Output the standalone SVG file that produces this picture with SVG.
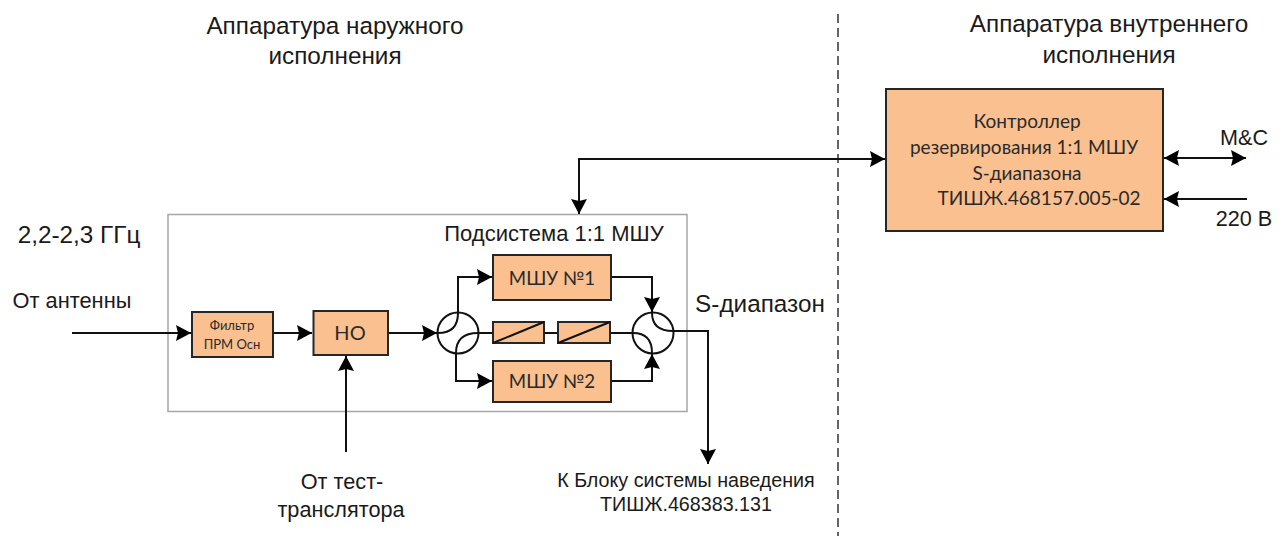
<svg xmlns="http://www.w3.org/2000/svg" width="1285" height="536" viewBox="0 0 1285 536">
<style>
.b{fill:#fac090;stroke:#262626;stroke-width:2}
.c{fill:none;stroke:#111;stroke-width:2}
.a{font-family:"Liberation Sans",Arial,sans-serif;fill:#1a1a1a;text-anchor:middle}
.o{font-family:"Lato","Open Sans",sans-serif;fill:#2a2a2a;text-anchor:middle}
</style>
<defs>
<marker id="e" markerUnits="userSpaceOnUse" markerWidth="16" markerHeight="16" refX="15" refY="8" orient="auto-start-reverse"><path d="M0 0L15 8L0 16L2 8Z" fill="#000"/></marker>
</defs>
<rect width="1285" height="536" fill="#fff"/>
<g id="outdoor-frame"><rect x="168" y="214.500" width="519" height="197" fill="none" stroke="#a6a6a6" stroke-width="1.500"/></g>
<line id="divider" x1="838" y1="14" x2="838" y2="536" stroke="#333" stroke-width="1.500" stroke-dasharray="9 5"/>
<g id="connectors">
<path class="c" d="M72 333H191" marker-end="url(#e)"/>
<path class="c" d="M273 333H312" marker-end="url(#e)"/>
<path class="c" d="M346 452V356" marker-end="url(#e)"/>
<path class="c" d="M388 333H437" marker-end="url(#e)"/>
<path class="c" d="M458 313V277H492" marker-end="url(#e)"/>
<path class="c" d="M456 353V381H492" marker-end="url(#e)"/>
<path class="c" d="M611 277H652V312" marker-end="url(#e)"/>
<path class="c" d="M611 381H652V354" marker-end="url(#e)"/>
<path class="c" d="M478 333H493M544 333H558M610 333H633"/>
<path class="c" d="M673 331H708V464" marker-end="url(#e)"/>
<path class="c" d="M579 214V159H885" marker-start="url(#e)" marker-end="url(#e)"/>
<path class="c" d="M1164 158H1246" marker-start="url(#e)" marker-end="url(#e)"/>
<path class="c" d="M1247 199H1164" marker-end="url(#e)"/>
</g>
<g id="splitter-left"><circle class="c" cx="458" cy="333" r="20.500"/><path class="c" d="M438 333Q458 333 458 313M478 333Q456 333 456 353"/></g>
<g id="splitter-right"><circle class="c" cx="653" cy="333" r="20.500"/><path class="c" d="M652 313Q652 331 673 331M633 333Q652 333 652 353"/></g>
<g id="filter"><rect class="b" x="192" y="312" width="81" height="45"/><text class="o" font-size="13" x="232" y="330">Фильтр</text><text class="o" font-size="13" x="232" y="349">ПРМ Осн</text></g>
<g id="ho"><rect class="b" x="313.500" y="311" width="74.500" height="44"/><text class="o" font-size="20" x="350" y="340">НО</text></g>
<g id="lna1"><rect class="b" x="493" y="255" width="118" height="45"/><text class="o" font-size="18.700" x="552" y="285">МШУ №1</text></g>
<g id="lna2"><rect class="b" x="493" y="361" width="118" height="41"/><text class="o" font-size="18.700" x="552" y="388">МШУ №2</text></g>
<g id="switch1"><rect class="b" x="493" y="322" width="51" height="21"/><path class="c" d="M493 343L544 322"/></g>
<g id="switch2"><rect class="b" x="558" y="322" width="52" height="21"/><path class="c" d="M558 343L610 322"/></g>
<g id="controller"><rect class="b" x="886" y="89" width="277" height="142"/>
<text class="o" font-size="19" x="1027" y="128">Контроллер</text>
<text class="o" font-size="19" x="1024" y="154">резервирования 1:1 МШУ</text>
<text class="o" font-size="19" x="1027" y="180">S-диапазона</text>
<text class="o" font-size="19" x="1039" y="205">ТИШЖ.468157.005-02</text></g>
<g id="labels">
<text class="a" font-size="24.300" x="335" y="34">Аппаратура наружного</text>
<text class="a" font-size="24.300" x="335" y="64">исполнения</text>
<text class="a" font-size="24.300" x="1109" y="32">Аппаратура внутреннего</text>
<text class="a" font-size="24.300" x="1109" y="63">исполнения</text>
<text class="a" font-size="24.300" x="79" y="243">2,2-2,3 ГГц</text>
<text class="a" font-size="21.800" x="72" y="308">От антенны</text>
<text class="a" font-size="22" x="554" y="241">Подсистема 1:1 МШУ</text>
<text class="a" font-size="24.300" x="760" y="312">S-диапазон</text>
<text class="a" font-size="21.700" x="342" y="489">От тест-</text>
<text class="a" font-size="21.700" x="341" y="517">транслятора</text>
<text class="a" font-size="19.700" x="686" y="487">К Блоку системы наведения</text>
<text class="a" font-size="19.700" x="686" y="511">ТИШЖ.468383.131</text>
<text class="a" font-size="21.600" x="1244" y="145">M&amp;C</text>
<text class="a" font-size="21.600" x="1244" y="226">220 В</text>
</g>
</svg>
